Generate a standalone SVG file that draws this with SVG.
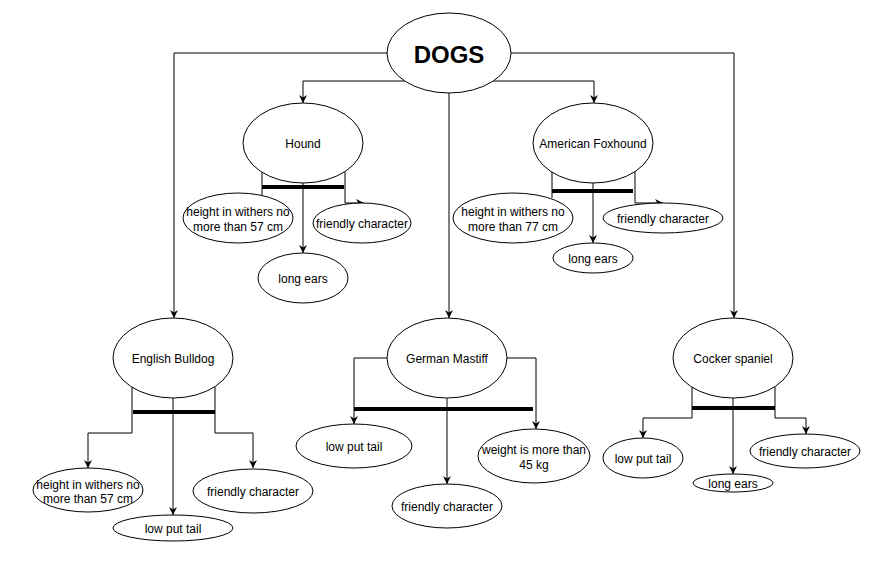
<svg xmlns="http://www.w3.org/2000/svg" width="890" height="588" viewBox="0 0 890 588">
<style>
.n ellipse{fill:#fff;stroke:#000;stroke-width:1}
text{font-family:"Liberation Sans",Arial,sans-serif;font-size:12px;fill:#000;text-anchor:middle;dominant-baseline:central}
.t{font-size:24px;font-weight:bold}
.c path{fill:none;stroke:#000;stroke-width:1}
.c path.bar{stroke-width:4}
</style>
<defs>
<marker id="ah" viewBox="0 0 10 10" refX="10" refY="5" markerWidth="8" markerHeight="8" markerUnits="userSpaceOnUse" orient="auto">
<path d="M0 0 L10 5 L0 10 L3 5 Z" fill="#000"/>
</marker>
</defs>
<rect width="890" height="588" fill="#fff"/>
<g class="c" id="connectors">
<path d="M387 53 H174 V318" marker-end="url(#ah)"/>
<path d="M511 53 H734 V318" marker-end="url(#ah)"/>
<path d="M405 81 H303 V103" marker-end="url(#ah)"/>
<path d="M493 81 H594 V103" marker-end="url(#ah)"/>
<path d="M449 93 V318" marker-end="url(#ah)"/>
<path d="M262 172 V195"/>
<path class="bar" d="M262 187 H344"/>
<path d="M303 183 V253" marker-end="url(#ah)"/>
<path d="M345 172 V203 H364" marker-end="url(#ah)"/>
<path d="M552 172 V198"/>
<path class="bar" d="M552 191 H633"/>
<path d="M593 183 V243" marker-end="url(#ah)"/>
<path d="M635 171 V203 H663" marker-end="url(#ah)"/>
<path d="M132 387 V433 H88 V468" marker-end="url(#ah)"/>
<path class="bar" d="M133 412 H215"/>
<path d="M173 398 V515" marker-end="url(#ah)"/>
<path d="M215 387 V433 H253 V468" marker-end="url(#ah)"/>
<path d="M387 358 H354 V424" marker-end="url(#ah)"/>
<path class="bar" d="M354 409 H533"/>
<path d="M447 398 V484" marker-end="url(#ah)"/>
<path d="M507 358 H536 V429" marker-end="url(#ah)"/>
<path d="M692 387 V418 H643 V438" marker-end="url(#ah)"/>
<path class="bar" d="M692 408 H775"/>
<path d="M733 398 V474" marker-end="url(#ah)"/>
<path d="M775 387 V418 H806 V434" marker-end="url(#ah)"/>
</g>
<g class="n" id="dogs"><ellipse cx="449" cy="53" rx="62" ry="40"/><text class="t" x="449" y="54">DOGS</text></g>
<g class="n" id="hound"><ellipse cx="303" cy="143" rx="60" ry="40"/><text x="303" y="144">Hound</text></g>
<g class="n" id="hound-height"><ellipse cx="238" cy="218" rx="55" ry="25"/><text x="238" y="212">height in withers no</text><text x="238" y="227">more than 57 cm</text></g>
<g class="n" id="hound-friendly"><ellipse cx="362" cy="223" rx="49" ry="20"/><text x="362" y="224">friendly character</text></g>
<g class="n" id="hound-ears"><ellipse cx="303" cy="278" rx="45" ry="25"/><text x="303" y="279">long ears</text></g>
<g class="n" id="foxhound"><ellipse cx="593" cy="143" rx="60" ry="40"/><text x="593" y="144">American Foxhound</text></g>
<g class="n" id="fox-height"><ellipse cx="513" cy="218" rx="60" ry="25"/><text x="513" y="212">height in withers no</text><text x="513" y="227">more than 77 cm</text></g>
<g class="n" id="fox-friendly"><ellipse cx="663" cy="218" rx="60" ry="15"/><text x="663" y="219">friendly character</text></g>
<g class="n" id="fox-ears"><ellipse cx="593" cy="258" rx="40" ry="15"/><text x="593" y="259">long ears</text></g>
<g class="n" id="bulldog"><ellipse cx="173" cy="358" rx="60" ry="40"/><text x="173" y="359">English Bulldog</text></g>
<g class="n" id="bull-height"><ellipse cx="88" cy="490" rx="55" ry="22"/><text x="88" y="485">height in withers no</text><text x="88" y="499">more than 57 cm</text></g>
<g class="n" id="bull-friendly"><ellipse cx="253" cy="491" rx="60" ry="22"/><text x="253" y="492">friendly character</text></g>
<g class="n" id="bull-tail"><ellipse cx="173" cy="528" rx="60" ry="13"/><text x="173" y="529">low put tail</text></g>
<g class="n" id="mastiff"><ellipse cx="447" cy="358" rx="60" ry="40"/><text x="447" y="359">German Mastiff</text></g>
<g class="n" id="mast-tail"><ellipse cx="354" cy="446" rx="58" ry="22"/><text x="354" y="447">low put tail</text></g>
<g class="n" id="mast-weight"><ellipse cx="534" cy="456" rx="56" ry="27"/><text x="534" y="450">weight is more than</text><text x="534" y="465">45 kg</text></g>
<g class="n" id="mast-friendly"><ellipse cx="447" cy="506" rx="55" ry="22"/><text x="447" y="507">friendly character</text></g>
<g class="n" id="cocker"><ellipse cx="733" cy="358" rx="60" ry="40"/><text x="733" y="359">Cocker spaniel</text></g>
<g class="n" id="cock-tail"><ellipse cx="643" cy="458" rx="40" ry="20"/><text x="643" y="459">low put tail</text></g>
<g class="n" id="cock-ears"><ellipse cx="733" cy="483" rx="40" ry="9"/><text x="733" y="484">long ears</text></g>
<g class="n" id="cock-friendly"><ellipse cx="805" cy="451" rx="55" ry="17"/><text x="805" y="452">friendly character</text></g>
</svg>
